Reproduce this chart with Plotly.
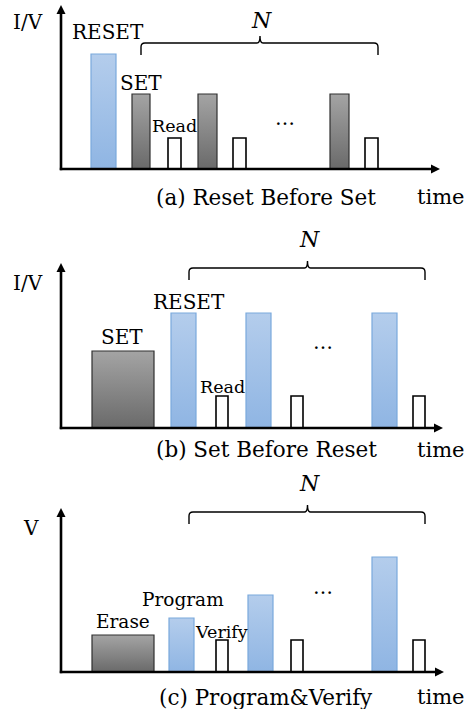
import plotly.graph_objects as go

# ---------------- data (time units, amplitude units) ----------------
# Panel (a) Reset Before Set
a_start = [91, 132, 168, 198, 233, 330, 365]
a_end = [116, 150, 181, 217, 246, 349, 378]
a_height = [115, 75, 31, 75, 31, 75, 31]
a_kind = ["blue", "gray", "white", "gray", "white", "gray", "white"]

# Panel (b) Set Before Reset
b_start = [92, 171, 216, 246, 291, 372, 413]
b_end = [154, 196, 228, 271, 303, 397, 425]
b_height = [77, 115, 32, 115, 32, 115, 32]
b_kind = ["gray", "blue", "white", "blue", "white", "blue", "white"]

# Panel (c) Program & Verify
c_start = [92, 169, 216, 248, 291, 372, 413]
c_end = [154, 194, 228, 273, 303, 397, 425]
c_height = [37, 54, 32, 77, 32, 115, 32]
c_kind = ["gray", "blue", "white", "blue", "white", "blue", "white"]

# brace (N repetitions) extents per panel
brace_start = [141, 189, 189]
brace_end = [378, 425, 425]
brace_level = [126, 160, 160]

y_labels = ["I/V", "I/V", "V"]
captions = ["(a) Reset Before Set", "(b) Set Before Reset", "(c) Program&Verify"]

# pulse labels: (text, x, y, size)
labels_a = [("RESET", 108, 137, 20), ("SET", 141, 86, 20), ("Read", 174, 43, 17.5), ("…", 285, 51, 20)]
labels_b = [("RESET", 189, 126, 20), ("SET", 122, 91, 20), ("Read", 222, 41, 17.5), ("…", 323, 86, 20)]
labels_c = [("Erase", 123, 51, 18.5), ("Program", 183, 73, 18.5), ("Verify", 221, 40, 17.5), ("…", 323, 85, 20)]

# ---------------- layout geometry ----------------
W, H = 469, 709
panel_rows = [(0, 240, 169), (240, 480, 428), (480, 709, 672)]  # top, bottom, baseline rows
x_tip = [440, 443, 444]
y_tip = [5, 263, 508]
ylab_pos = [(28, 147), (28, 145), (31, 144)]
cap_y = [-28, -22, -25]
n_dy = [23, 28, 28]

FONT = "DejaVu Serif"
styles = {
    "blue": dict(line=dict(color="#7aa9dc", width=1.2),
                 fillgradient=dict(type="vertical",
                                   colorscale=[[0, "#8fb5e3"], [1, "#b4cdec"]])),
    "gray": dict(line=dict(color="#303030", width=1.2),
                 fillgradient=dict(type="vertical",
                                   colorscale=[[0, "#6a6a6a"], [1, "#a4a4a4"]])),
    "white": dict(line=dict(color="#000000", width=1.6), fillcolor="#ffffff"),
}

fig = go.Figure()
layout = dict(width=W, height=H, margin=dict(l=0, r=0, t=0, b=0, pad=0),
              paper_bgcolor="white", plot_bgcolor="white", showlegend=False)

panels = [(a_start, a_end, a_height, a_kind, labels_a),
          (b_start, b_end, b_height, b_kind, labels_b),
          (c_start, c_end, c_height, c_kind, labels_c)]

annotations = []
shapes = []
for i, (st, en, hh, kd, labs) in enumerate(panels):
    top, bot, base = panel_rows[i]
    sfx = "" if i == 0 else str(i + 1)
    xa, ya = "x" + sfx, "y" + sfx
    layout["xaxis" + sfx] = dict(range=[0, W], domain=[0, 1], visible=False,
                                 anchor=ya, fixedrange=True)
    layout["yaxis" + sfx] = dict(range=[-(bot - base), base - top],
                                 domain=[1 - bot / H, 1 - top / H],
                                 visible=False, anchor=xa, fixedrange=True)
    for s, e, h, k in zip(st, en, hh, kd):
        fig.add_trace(go.Scatter(x=[s, e, e, s, s], y=[0, 0, h, h, 0],
                                 mode="lines", fill="toself", xaxis=xa, yaxis=ya,
                                 hoverinfo="skip", **styles[k]))
    ytop = base - y_tip[i]
    fig.add_trace(go.Scatter(x=[61, 61], y=[-1.2, ytop - 6], mode="lines",
                             line=dict(color="black", width=2.6),
                             xaxis=xa, yaxis=ya, hoverinfo="skip"))
    fig.add_trace(go.Scatter(x=[59.8, x_tip[i] - 6], y=[0, 0], mode="lines",
                             line=dict(color="black", width=2.6),
                             xaxis=xa, yaxis=ya, hoverinfo="skip"))
    fig.add_trace(go.Scatter(x=[61], y=[ytop], mode="markers",
                             marker=dict(symbol="arrow-up", size=9, color="black",
                                         line=dict(width=0)),
                             xaxis=xa, yaxis=ya, hoverinfo="skip"))
    fig.add_trace(go.Scatter(x=[x_tip[i]], y=[0], mode="markers",
                             marker=dict(symbol="arrow-right", size=9, color="black",
                                         line=dict(width=0)),
                             xaxis=xa, yaxis=ya, hoverinfo="skip"))
    # brace
    x0, x1, yl = brace_start[i], brace_end[i], brace_level[i]
    xm = (x0 + x1) / 2 + 0.5
    ye, r = yl - 12, 4
    path = (f"M{x0},{ye} L{x0},{yl - r} Q{x0},{yl} {x0 + r},{yl} "
            f"L{xm - 3},{yl} Q{xm},{yl} {xm},{yl + 7} Q{xm},{yl} {xm + 3},{yl} "
            f"L{x1 - r},{yl} Q{x1},{yl} {x1},{yl - r} L{x1},{ye}")
    shapes.append(dict(type="path", path=path, xref=xa, yref=ya,
                       line=dict(color="black", width=1.4)))

    def txt(t, x, y, size, italic=False):
        annotations.append(dict(text=t, x=x, y=y, xref=xa, yref=ya,
                                showarrow=False, xanchor="center", yanchor="middle",
                                font=dict(family=FONT, size=size, color="black",
                                          style="italic" if italic else "normal")))

    txt(y_labels[i], ylab_pos[i][0], ylab_pos[i][1], 20)
    txt(captions[i], 266, cap_y[i], 21.5)
    txt("time", 441, cap_y[i], 21)
    txt("N", (x0 + x1) / 2 + 2, yl + n_dy[i], 22, italic=True)
    for t, x, y, s in labs:
        txt(t, x, y, s)

layout["annotations"] = annotations
layout["shapes"] = shapes
fig.update_layout(**layout)
fig.write_html("out.html", config={"displayModeBar": False, "staticPlot": True},
               post_script="document.body.style.margin='0';document.body.style.overflow='hidden';")
